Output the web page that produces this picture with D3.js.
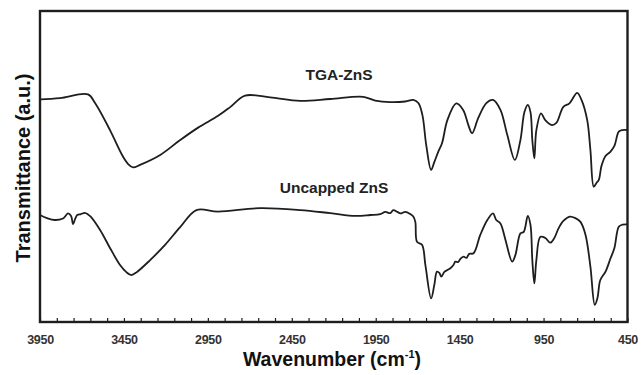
<!DOCTYPE html>
<html><head><meta charset="utf-8">
<script src="https://cdn.jsdelivr.net/npm/d3@7"></script>
<style>html,body{margin:0;padding:0;background:#fff;}svg{display:block;font-family:"Liberation Sans",Arial,sans-serif;}</style>
</head><body><svg id="c" width="641" height="375"></svg>
<script>
// wavenumber (cm-1) and transmittance (a.u.)
const tgaWave = [3950,3831,3664,3622,3533,3461,3425,3395,3354,3234,3115,3008,2889,2817,2728,2579,2400,2221,2024,1953,1863,1774,1726,1696,1672,1649,1620,1601,1577,1555,1523,1470,1429,1398,1376,1339,1291,1251,1207,1166,1121,1088,1064,1044,1028,1017,1005,993,965,940,900,874,832,796,750,724,690,671,651,635,621,605,581,551,528,502,480,450];
const tgaT    = [71.6,72.0,73.2,70.4,61.7,53.7,50.8,49.7,50.5,53.7,58.5,62.5,66.3,69.1,72.8,72.2,71.1,71.7,72.4,71.2,70.7,70.9,71.4,70.4,66.6,56.9,48.9,51.4,54.8,57.5,64.9,70.3,68.2,63.3,60.7,65.6,70.4,71.4,68.2,60.1,52.1,58.5,67.5,69.8,67.5,58.5,52.6,61.7,67.1,64.9,63.3,64.0,69.2,70.3,73.7,71.4,64.9,55.3,43.5,44.7,45.7,50.2,53.4,54.8,56.6,61.2,61.7,61.7];
const uncWave = [3950,3908,3862,3813,3783,3765,3753,3741,3728,3706,3683,3664,3648,3592,3533,3473,3437,3406,3372,3294,3205,3115,3018,2889,2638,2400,2221,2072,1982,1923,1893,1863,1845,1821,1803,1774,1744,1726,1714,1704,1674,1654,1620,1601,1585,1571,1559,1541,1523,1505,1487,1476,1458,1446,1426,1410,1393,1367,1327,1285,1251,1232,1207,1177,1137,1118,1088,1068,1044,1028,1017,1005,993,969,939,910,886,861,832,794,760,730,700,671,645,629,612,581,551,528,502,480,450];
const uncT    = [34.4,33.4,32.8,33.3,34.9,34.1,31.5,33.1,34.4,34.7,35.1,34.6,33.9,29.6,23.8,18.3,16.1,15.1,16.1,19.9,24.8,30.5,36.0,35.5,36.6,36.0,35.0,34.1,34.4,34.7,35.4,35.0,36.0,35.4,34.9,35.4,34.7,33.9,32.2,25.8,24.8,18.3,7.6,11.9,16.2,15.8,14.6,16.1,16.7,17.3,18.3,19.4,19.3,20.3,21.0,20.6,21.9,22.1,28.0,32.8,34.9,32.8,31.7,26.4,19.4,21.5,28.5,29.0,34.1,31.2,19.9,12.4,19.9,27.4,27.0,25.5,27.0,30.1,32.5,33.9,33.4,32.2,28.0,17.8,5.5,7.7,13.5,16.2,20.5,23.8,30.6,31.3,31.4];
const seriesNames = ["TGA-ZnS","Uncapped ZnS"];
const majorTicks = [3950,3450,2950,2450,1950,1450,950,450];
const xLabel = "Wavenumber (cm";
const yLabel = "Transmittance (a.u.)";

const svg = d3.select("#c");
const L = 40, R = 627.5, T = 11, B = 322;
const x = d3.scaleLinear().domain([3950,450]).range([L,R]);
const y = d3.scaleLinear().domain([0,100]).range([B,T]);
const ink = "#1e1e1e";

const line = d3.line().x(d=>x(d[0])).y(d=>y(d[1])).curve(d3.curveCatmullRom.alpha(0.5));
const series = [d3.zip(tgaWave,tgaT), d3.zip(uncWave,uncT)];
svg.selectAll("path.s").data(series).join("path").attr("class","s")
  .attr("d",line).attr("fill","none").attr("stroke",ink).attr("stroke-width",1.8).attr("stroke-linejoin","round");

// minor ticks inward
const minor = d3.range(3950,449,-100);
const ax = d3.axisBottom(x).tickValues(minor).tickSizeInner(-4).tickSizeOuter(0).tickFormat("");
svg.append("g").attr("transform",`translate(0,${B})`).call(ax)
  .call(g=>g.select(".domain").remove())
  .call(g=>g.selectAll("line").attr("stroke",ink).attr("stroke-width",1.2));
const axM = d3.axisBottom(x).tickValues(majorTicks).tickSize(0).tickPadding(13).tickFormat(d3.format("d"));
svg.append("g").attr("transform",`translate(0,${B})`).call(axM)
  .call(g=>g.select(".domain").remove())
  .call(g=>g.selectAll("text").attr("font-size",12.5).attr("font-weight","bold").attr("fill","#333").attr("letter-spacing","-0.3"));

// frame
svg.append("rect").attr("x",L).attr("y",T).attr("width",R-L).attr("height",B-T)
  .attr("fill","none").attr("stroke",ink).attr("stroke-width",2.4);

// series labels
svg.append("text").attr("x",339).attr("y",80).attr("text-anchor","middle").attr("font-size",15.5).attr("font-weight","bold").attr("fill","#222").text(seriesNames[0]);
svg.append("text").attr("x",334).attr("y",193).attr("text-anchor","middle").attr("font-size",15.5).attr("font-weight","bold").attr("fill","#222").text(seriesNames[1]);

// axis titles
const xt = svg.append("text").attr("x",332).attr("y",366).attr("text-anchor","middle").attr("font-size",19.5).attr("font-weight","bold").attr("fill","#111");
xt.append("tspan").text(xLabel);
xt.append("tspan").attr("font-size",11).attr("dy",-8).text("-1");
xt.append("tspan").attr("dy",8).text(")");
svg.append("text").attr("transform","translate(30,168) rotate(-90)").attr("text-anchor","middle").attr("font-size",20).attr("font-weight","bold").attr("fill","#111").text(yLabel);
</script></body></html>
